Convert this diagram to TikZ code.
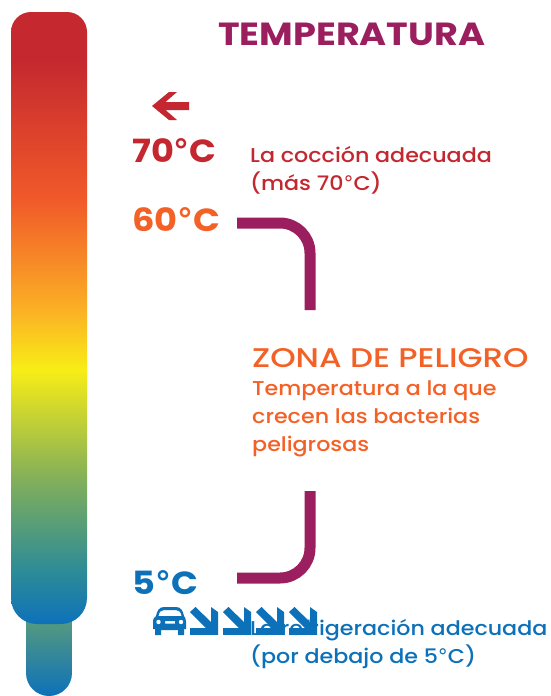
\documentclass[tikz,border=0pt]{standalone}
\usepackage{fontspec}
\setmainfont{Poppins}[UprightFont=* Medium,BoldFont=* Bold]
\newfontfamily\lblf{Poppins}[UprightFont=* Medium,BoldFont=* Bold,FakeStretch=1.11]
\newfontfamily\tempf{Poppins}[UprightFont=* Medium,BoldFont=* Bold,FakeStretch=1.1]
\newfontfamily\titlef{Poppins}[UprightFont=* Medium,BoldFont=* Bold,FakeStretch=1.145]
\newfontfamily\zonaf{Poppins}[UprightFont=* Medium,BoldFont=* Bold,FakeStretch=1.2]
\newfontfamily\degf{DejaVu Sans}
\newcommand{\dg}{{\degf °}}
\definecolor{cred}{RGB}{196,39,48}
\definecolor{corange}{RGB}{243,97,38}
\definecolor{cblue}{RGB}{13,113,186}
\definecolor{cpurple}{RGB}{155,31,95}
\definecolor{gteal}{RGB}{45,140,150}
\definecolor{ggreen}{RGB}{130,175,90}
\definecolor{gyellow}{RGB}{248,237,22}
\definecolor{gamber}{RGB}{251,176,37}
\definecolor{gorange}{RGB}{241,90,41}
\definecolor{gred}{RGB}{197,40,47}
\definecolor{gstem}{RGB}{88,155,125}
\pgfdeclareverticalshading{thermo}{100bp}{
color(0bp)=(cblue);
color(25bp)=(cblue);
color(29.4bp)=(gteal);
color(36.8bp)=(ggreen);
color(45.8bp)=(gyellow);
color(50.7bp)=(gamber);
color(59.6bp)=(gorange);
color(71.1bp)=(gred);
color(75bp)=(gred);
color(100bp)=(gred)}
\tikzset{
  x=1pt,y=-1pt,
  lbl/.style={inner sep=0pt,anchor=base west,font=\lblf\fontsize{20}{25}\selectfont},
  temp/.style={inner sep=0pt,anchor=base west,font=\tempf\fontsize{32}{36}\selectfont\bfseries},
  bracket/.style={draw=cpurple,line width=11pt,line join=round}
}
\begin{document}
\begin{tikzpicture}
\useasboundingbox (0,0) rectangle (550,696);
\fill[white] (0,0) rectangle (550,696);
% stem and bulb
\shade[top color=gstem,bottom color=cblue]
  (26,618) -- (72,618) -- (72,673) arc[start angle=0,end angle=-180,x radius=23,y radius=-23] -- cycle;
\shade[shading=thermo]
  (11,32) arc[start angle=180,end angle=90,x radius=20,y radius=-20]
  -- (67,12) arc[start angle=90,end angle=0,x radius=20,y radius=-20]
  -- (87,598) arc[start angle=0,end angle=-90,x radius=26,y radius=-26]
  -- (37,624) arc[start angle=-90,end angle=-180,x radius=26,y radius=-26] -- cycle;
% title and temperatures
\node[inner sep=0pt,anchor=base west,text=cpurple,font=\titlef\fontsize{32}{36}\selectfont\bfseries] (title) at (218,45) {TEMPERATURA};
\node[temp,text=cred] (t70) at (132,162) {70\dg C};
\node[temp,text=corange] (t60) at (132,231) {60\dg C};
\node[temp,text=cblue] (t5) at (132,594) {5\dg C};
% labels
\node[lbl,text=cred] (c1) at (250,162) {La cocción adecuada};
\node[lbl,text=cred] (c2) at (250,190) {(más 70\dg C)};
\node[inner sep=0pt,anchor=base west,text=corange,font=\zonaf\fontsize{27}{30}\selectfont] (z0) at (252,367) {ZONA DE PELIGRO};
\node[lbl,text=corange] (z1) at (252,395) {Temperatura a la que};
\node[lbl,text=corange] (z2) at (252,423) {crecen las bacterias};
\node[lbl,text=corange] (z3) at (252,451) {peligrosas};
% left arrow
\fill[cred] (152,106) -- (169,92) -- (177,92) -- (165.5,102) -- (189,102) -- (189,110) -- (165.5,110) -- (177,120) -- (169,120) -- cycle;
% brackets
\draw[bracket] (237,223) -- (280,223) arc[start angle=90,end angle=0,x radius=30,y radius=-30] -- (310,310);
\draw[bracket] (310,491) -- (310,548) arc[start angle=0,end angle=-90,x radius=30,y radius=-30] -- (237,578);
% car
\fill[cblue,even odd rule]
  (153,622) .. controls (153,618) and (155,617) .. (156,616)
  .. controls (157,611) and (159,607) .. (164,607) -- (176,607)
  .. controls (181,607) and (183,611) .. (184,616)
  .. controls (185,617) and (186,619) .. (186,622) -- (186,629) -- (184,629) -- (184,635) -- (178,635) -- (178,630) -- (161,630) -- (161,635) -- (155,635) -- (155,629) -- (153,629) -- cycle
  (158.5,616) .. controls (159,612) and (161,610) .. (164,610) -- (176,610) .. controls (179,610) and (181,612) .. (181.5,616) -- cycle
  (165,621) -- (175,621) -- (175,623.5) -- (165,623.5) -- cycle;
\fill[white] (158.5,622) circle[radius=2.2] (181,622) circle[radius=2.2];
% refrigeration text
\node[lbl,text=cblue] (r1) at (250,635) {La refrigeración adecuada};
\node[lbl,text=cblue] (r2) at (250,663) {(por debajo de 5\dg C)};
% block arrows, cut at the bottom
\foreach \d in {0,33,66,99}{
  \begin{scope}[xshift=\d pt]
    \clip (185,600) rectangle (225,634.5);
    \fill[cblue] (190,612) -- (195.5,607) -- (211,622) -- (211,607) -- (218,612) -- (218,635) -- (190,635) -- (190,628) -- (206,628) -- cycle;
  \end{scope}
}
\end{tikzpicture}
\end{document}
